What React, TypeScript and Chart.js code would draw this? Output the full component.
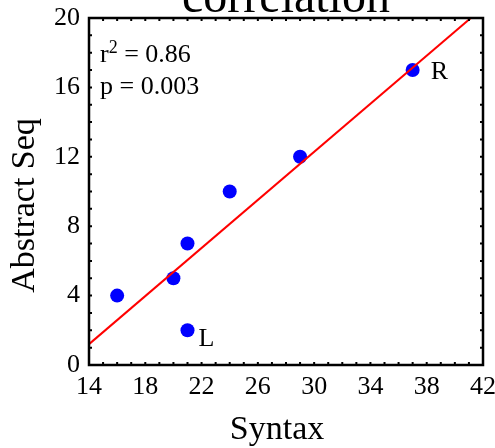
import { useEffect, useRef } from 'react';
import { Chart, registerables } from 'chart.js';

Chart.register(...registerables);

const chartTitle = 'correlation';
const xAxisTitle = 'Syntax';
const yAxisTitle = 'Abstract Seq';
const syntaxValues = [16, 20, 21, 21, 24, 29, 37];
const abstractSeqValues = [4, 5, 7, 2, 10, 12, 17];
const pointNames = ['', '', '', 'L', '', '', 'R'];
const fitLineX = [14, 42];
const fitLineY = [1.2, 20.6];
const xRange = [14, 42];
const xStep = 4;
const yRange = [0, 20];
const yStep = 4;
const statR2 = '0.86';
const statP = '0.003';

const FONT = '"Liberation Serif", "Times New Roman", Times, serif';

const decorPlugin = {
  id: 'decor',
  afterDraw(chart: any) {
    const { ctx, chartArea: a, scales } = chart;
    const xs = scales.x;
    const ys = scales.y;
    ctx.save();
    ctx.strokeStyle = '#000';
    ctx.fillStyle = '#000';
    // frame
    ctx.lineWidth = 2.5;
    ctx.strokeRect(a.left, a.top, a.right - a.left, a.bottom - a.top);
    // inward ticks at every unit
    ctx.lineWidth = 2;
    const tl = 3;
    ctx.beginPath();
    for (let v = xRange[0] + 1; v < xRange[1]; v++) {
      const px = xs.getPixelForValue(v);
      ctx.moveTo(px, a.bottom);
      ctx.lineTo(px, a.bottom - tl);
      ctx.moveTo(px, a.top);
      ctx.lineTo(px, a.top + tl);
    }
    for (let v = yRange[0] + 1; v < yRange[1]; v++) {
      const py = ys.getPixelForValue(v);
      ctx.moveTo(a.left, py);
      ctx.lineTo(a.left + tl, py);
      ctx.moveTo(a.right, py);
      ctx.lineTo(a.right - tl, py);
    }
    ctx.stroke();

    // title (partly above the canvas)
    ctx.font = `48px ${FONT}`;
    ctx.textAlign = 'center';
    ctx.textBaseline = 'alphabetic';
    ctx.fillText(chartTitle, (a.left + a.right) / 2, 12);

    // axis titles
    ctx.font = `34px ${FONT}`;
    ctx.fillText(xAxisTitle, (a.left + a.right) / 2 - 9, 439);
    ctx.save();
    ctx.translate(34, (a.top + a.bottom) / 2 + 14);
    ctx.rotate(-Math.PI / 2);
    ctx.fillText(yAxisTitle, 0, 0);
    ctx.restore();

    // stats text
    ctx.textAlign = 'left';
    ctx.font = `26px ${FONT}`;
    let tx = a.left + 11;
    ctx.fillText('r', tx, 62);
    tx += ctx.measureText('r').width;
    ctx.font = `18px ${FONT}`;
    ctx.fillText('2', tx, 53);
    tx += ctx.measureText('2').width;
    ctx.font = `26px ${FONT}`;
    ctx.fillText(' = ' + statR2, tx, 62);
    ctx.fillText('p = ' + statP, a.left + 11, 94);

    // point names
    ctx.font = `26px ${FONT}`;
    const meta = chart.getDatasetMeta(1);
    const offs: Record<string, [number, number]> = { L: [11, 16], R: [18, 9] };
    meta.data.forEach((el: any, i: number) => {
      const name = pointNames[i];
      if (!name) return;
      const o = offs[name] || [14, 12];
      ctx.fillText(name, el.x + o[0], el.y + o[1]);
    });
    ctx.restore();
  },
};

export default function App() {
  const ref = useRef<HTMLCanvasElement>(null);
  useEffect(() => {
    if (!ref.current) return;
    const chart = new Chart(ref.current, {
      type: 'scatter',
      data: {
        datasets: [
          {
            label: 'fit',
            data: fitLineX.map((x, i) => ({ x, y: fitLineY[i] })),
            showLine: true,
            borderColor: '#ff0000',
            borderWidth: 2,
            pointRadius: 0,
            fill: false,
          },
          {
            label: 'points',
            data: syntaxValues.map((x, i) => ({ x, y: abstractSeqValues[i] })),
            backgroundColor: '#0000ff',
            borderWidth: 0,
            pointRadius: 7,
          },
        ],
      },
      options: {
        responsive: false,
        animation: false,
        layout: { padding: { top: 18, right: 12, left: 0, bottom: 0 } },
        plugins: { legend: { display: false }, tooltip: { enabled: false }, title: { display: false } },
        scales: {
          x: {
            type: 'linear',
            min: xRange[0],
            max: xRange[1],
            grid: { display: false, drawTicks: false },
            border: { display: false },
            ticks: {
              stepSize: xStep,
              color: '#000',
              font: { family: FONT, size: 26 },
              padding: 7,
              maxRotation: 0,
              autoSkip: false,
            },
            title: { display: false },
            afterFit(s: any) {
              s.height = 83;
              s.paddingLeft = 0;
              s.paddingRight = 0;
            },
          },
          y: {
            type: 'linear',
            min: yRange[0],
            max: yRange[1],
            grid: { display: false, drawTicks: false },
            border: { display: false },
            ticks: {
              stepSize: yStep,
              color: '#000',
              font: { family: FONT, size: 26 },
              padding: 9,
              autoSkip: false,
            },
            title: { display: false },
            afterFit(s: any) {
              s.width = 89;
              s.paddingTop = 0;
              s.paddingBottom = 0;
            },
          },
        },
      },
      plugins: [decorPlugin],
    });
    return () => chart.destroy();
  }, []);
  return (
    <div style={{ position: 'fixed', left: 0, top: 0, width: 495, height: 448 }}>
      <canvas ref={ref} width={495} height={448} style={{ display: 'block' }} />
    </div>
  );
}
